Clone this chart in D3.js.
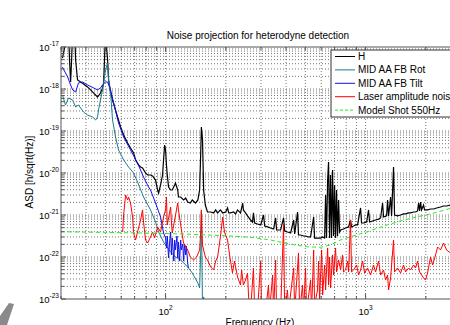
<!DOCTYPE html>
<html>
<head>
<meta charset="utf-8">
<script src="https://cdn.jsdelivr.net/npm/d3@7"></script>
<style>
body { margin:0; background:#fff; }
svg { display:block; font-family: "Liberation Sans", Arial, sans-serif; }
</style>
</head>
<body>
<div id="container"></div>
<script>
// spectra: [frequency in Hz, ASD in h/sqrt(Hz)]
const hData = [[30.5,5.47e-18],[31.3,1e-17],[32,2.5e-17],[32.7,2.5e-17],[33.1,4.9e-18],[33.5,1.47e-18],[33.9,4.9e-18],[34.3,2.5e-17],[35.1,2.5e-17],[35.5,4.9e-18],[36.3,1.64e-18],[37.6,1.47e-18],[38.9,1.32e-18],[40.7,1.12e-18],[42.2,9.5e-19],[43.7,8.0e-19],[45.7,6.45e-19],[47.3,8.0e-19],[48.4,1.06e-18],[49,1.39e-18],[49.5,4.9e-18],[50.1,2.5e-17],[50.7,1e-17],[51.3,4.9e-18],[51.9,1.64e-18],[53.1,8.5e-19],[54.3,5.47e-19],[56.2,3.16e-19],[57.5,2.15e-19],[59.6,1.25e-19],[61.7,8.0e-20],[64.6,5.2e-20],[66.8,3.94e-20],[69.2,3.0e-20],[70.8,2.04e-20],[73.3,1.55e-20],[75,1.39e-20],[76.7,1.32e-20],[79.4,1e-20],[81.3,8.95e-21],[84.1,8.95e-21],[86.1,8.5e-21],[89.1,6.8e-21],[91.2,3.94e-21],[92.3,3.34e-21],[94.4,5.2e-21],[96.6,8.95e-21],[97.7,2.04e-20],[98.9,4.64e-20],[100,3.53e-20],[101,1.55e-20],[102,8.95e-21],[103.5,4.64e-21],[106,3.94e-21],[108,3.94e-21],[111,5.2e-21],[112,5.8e-21],[115,3.94e-21],[116,2.68e-21],[119,2.68e-21],[123,2.28e-21],[126,2.54e-21],[129,2.04e-21],[133,1.93e-21],[136,2.28e-21],[141,1.93e-21],[145,2.28e-21],[148,3.94e-21],[150,3.53e-20],[151,1.25e-19],[153,6.1e-20],[155,3.94e-21],[158,1.73e-21],[162,1.18e-21],[168,1.18e-21],[174,1.12e-21],[178,1.32e-21],[182,1.12e-21],[188,1.32e-21],[193,1.12e-21],[200,1.18e-21],[204,1.47e-21],[207,1.12e-21],[211,1.12e-21],[219,1.18e-21],[224,1.06e-21],[229,1.32e-21],[237,1.12e-21],[243,1.93e-21],[245,1.32e-21],[251,1.12e-21],[257,9.5e-22],[266,7.6e-22],[272,6.8e-22],[275,1.12e-21],[279,6.45e-22],[288,6.1e-22],[299,5.8e-22],[309,1e-21],[313,5.47e-22],[324,5.2e-22],[335,4.9e-22],[347,4.64e-22],[355,8.5e-22],[359,4.4e-22],[376,4.4e-22],[389,8.5e-22],[394,4.16e-22],[407,3.94e-22],[422,3.73e-22],[437,7.6e-22],[442,3.53e-22],[457,1.18e-21],[462,3.34e-22],[473,3.34e-22],[490,3.16e-22],[501,3.16e-22],[519,3.0e-22],[531,3.0e-22],[550,8.95e-22],[556,2.83e-22],[575,2.83e-22],[596,2.83e-22],[610,3.0e-22],[624,2.83e-22],[631,3.0e-21],[638,2.83e-22],[646,6.8e-21],[653,1.83e-20],[661,2.83e-22],[668,8.95e-21],[676,2.83e-22],[684,1.18e-20],[692,3.16e-22],[700,5.2e-21],[708,2.83e-22],[716,3.94e-21],[724,3.16e-22],[733,2.28e-21],[741,3.94e-22],[750,4.4e-22],[776,4.64e-22],[794,4.9e-22],[822,5.2e-22],[841,7.6e-22],[851,5.2e-22],[871,5.47e-22],[891,5.8e-22],[912,5.8e-22],[944,1.47e-21],[955,6.45e-22],[977,6.45e-22],[1012,6.8e-22],[1035,1.32e-21],[1047,6.8e-22],[1084,7.2e-22],[1122,7.6e-22],[1161,8.0e-22],[1189,8.5e-22],[1216,1.93e-21],[1230,8.95e-22],[1274,9.5e-22],[1288,2.28e-21],[1303,9.5e-22],[1334,2.68e-21],[1349,9.5e-22],[1380,1.39e-20],[1396,1e-21],[1445,9.5e-22],[1496,1e-21],[1549,1.06e-21],[1585,1.06e-21],[1641,1.12e-21],[1679,1.12e-21],[1738,1.18e-21],[1778,1.18e-21],[1820,1.25e-21],[1841,1.93e-21],[1862,1.25e-21],[1884,2.04e-21],[1905,1.32e-21],[1950,1.73e-21],[1972,1.32e-21],[2042,1.32e-21],[2113,1.39e-21],[2188,1.39e-21],[2265,1.47e-21],[2371,1.55e-21],[2455,1.64e-21],[2541,1.64e-21],[2661,1.73e-21],[2985,1.93e-21]];

const rotData = [[30.5,7.2e-19],[31.6,4.16e-19],[32.7,6.1e-19],[34.3,5.47e-19],[35.5,3.73e-19],[36.7,4.16e-19],[38.9,2.83e-19],[40.7,2.4e-19],[43.2,2.15e-19],[44.7,1.83e-19],[45.7,2.15e-19],[46.2,3.16e-19],[48.4,9.5e-19],[50.1,2.83e-18],[51.3,4.16e-18],[51.9,1.64e-18],[53.1,8.0e-19],[54.3,1.83e-19],[56.2,7.2e-20],[58.2,3.53e-20],[61.7,2.04e-20],[65.3,1.39e-20],[69.2,1e-20],[72.4,6.1e-21],[77.6,2.68e-21],[84.1,1.32e-21],[89.1,6.8e-22],[92.3,3.94e-22],[97.7,2.28e-22],[106,1.32e-22],[112,1e-22],[119,8.5e-23],[129,5.8e-23],[136,4.16e-23],[145,2.4e-23],[148,1.83e-23],[150,1.47e-22],[151,1.18e-21],[153,6e-24],[155,1.12e-23],[158,5e-24]];

const tiltData = [[30.5,3.34e-18],[31.6,2.4e-18],[32.4,1.93e-18],[33.5,1.25e-18],[34.3,9.5e-19],[35.5,8.5e-19],[36.7,1.39e-18],[38.5,1.47e-18],[40.7,1.25e-18],[43.7,1.06e-18],[45.7,9.5e-19],[47.3,1.06e-18],[48.4,1.25e-18],[50.1,1.47e-18],[51.3,1.47e-18],[53.1,9.5e-19],[55,4.64e-19],[58.2,1.55e-19],[61.7,7.2e-20],[66.8,3.53e-20],[72.4,1.73e-20],[77.6,8.0e-21],[82.2,4.64e-21],[84.1,3.94e-21],[89.1,1.93e-21],[94.4,8.95e-22],[97.7,3.73e-22],[100,2.83e-22],[101,1.64e-22],[102,3.16e-22],[103.5,9.5e-23],[105,2.54e-22],[106,3.94e-22],[107,1.12e-22],[108,2.83e-22],[110,8.0e-23],[111,2.54e-22],[112,1.47e-22],[114,3.16e-22],[115,9.5e-23],[116,2.28e-22],[117.5,8.0e-23],[119,2.54e-22],[120,1.47e-22],[122,2.04e-22],[123,8.0e-23],[124.5,2.04e-22],[126,1.12e-22],[127,1.83e-22],[129,7.2e-23],[130,5.47e-23]];

const laserData = [[61,3.94e-22],[61.7,1e-21],[63.1,3.0e-21],[64.6,2.28e-21],[65.3,2.68e-21],[66.8,1.93e-21],[68.4,8.95e-22],[69.2,3.73e-22],[70.8,2.54e-22],[72.4,3.94e-22],[75,7.6e-22],[76.7,1.32e-21],[77.6,6.8e-22],[79.4,2.54e-22],[81.3,2.15e-22],[84.1,3.0e-22],[86.1,3.94e-22],[88.1,2.83e-22],[91.2,5.2e-22],[94.4,3.94e-22],[97.7,8.95e-22],[100,1.32e-21],[101,2.68e-21],[102,5.8e-22],[103.5,8.5e-22],[106,1.55e-21],[107,6.8e-22],[108,3.73e-22],[111,7.6e-22],[115,1.93e-21],[116,1.32e-21],[119,5.8e-22],[123,2.15e-22],[129,1.47e-22],[133,1e-22],[138,8.5e-23],[143,1e-22],[148,1.47e-22],[150,4.4e-22],[151,1.32e-21],[153,1.93e-22],[158,1e-22],[162,8.5e-23],[168,5.8e-23],[174,4.9e-23],[178,8.0e-23],[182,1e-22],[188,3.0e-22],[193,8.95e-22],[197,3.94e-22],[204,2.54e-22],[209,1.12e-22],[216,4.16e-23],[221,8.0e-23],[229,3.34e-23],[237,2.15e-23],[240,4.9e-23],[245,2.15e-23],[251,2.83e-23],[257,4.16e-23],[260,1.12e-23],[266,5e-24],[275,5.47e-23],[279,5e-24],[288,5e-24],[299,8.0e-23],[302,5e-24],[316,5e-24],[327,2.15e-23],[331,5e-24],[343,3.73e-23],[347,5e-24],[355,8.5e-23],[359,5e-24],[376,5e-24],[389,5.8e-22],[394,5e-24],[407,1.64e-23],[412,5e-24],[437,5.47e-23],[442,5e-24],[462,1.25e-22],[468,5e-24],[484,2.15e-23],[490,5e-24],[501,5.47e-23],[507,5e-24],[531,2.83e-23],[537,5e-24],[550,1.47e-22],[556,7.2e-24],[575,1.64e-23],[582,8.0e-23],[589,9.5e-24],[603,1.47e-22],[610,1.25e-23],[624,6.45e-23],[631,1.64e-23],[646,1.64e-22],[653,2.15e-23],[661,1e-22],[668,1.83e-23],[684,1.12e-22],[692,3.73e-23],[708,1.64e-22],[716,4.4e-23],[733,8.5e-23],[750,4.9e-23],[767,1.12e-22],[776,4.4e-23],[794,4.9e-23],[813,8.0e-23],[822,4.4e-23],[841,7.6e-22],[851,4.4e-23],[871,4.9e-23],[902,6.45e-23],[923,3.73e-23],[944,4.9e-23],[966,8.0e-23],[989,4.16e-23],[1023,5.47e-23],[1059,3.73e-23],[1096,6.45e-23],[1122,4.4e-23],[1161,8.0e-23],[1189,3.73e-23],[1230,4.9e-23],[1259,2.83e-23],[1288,3.73e-23],[1303,1.64e-23],[1334,3.16e-23],[1380,2.54e-22],[1396,4.4e-23],[1445,5.47e-23],[1496,4.16e-23],[1549,6.45e-23],[1585,4.4e-23],[1641,5.47e-23],[1679,4.9e-23],[1738,6.45e-23],[1778,5.47e-23],[1820,8.0e-23],[1862,4.4e-23],[1905,3.73e-23],[1950,3.16e-23],[1995,2.83e-23],[2042,4.16e-23],[2113,1e-22],[2163,6.45e-23],[2239,1.12e-22],[2291,1.73e-22],[2371,1.47e-22],[2455,2.15e-22],[2541,1.47e-22],[2661,1.25e-22],[2818,1.47e-22],[2985,1.64e-22]];

const shotData = [[30,4.0e-22],[50,3.85e-22],[94,3.66e-22],[150,3.4e-22],[200,3.2e-22],[266,2.95e-22],[335,2.55e-22],[422,2.0e-22],[512,1.75e-22],[596,1.7e-22],[668,1.93e-22],[750,2.54e-22],[841,3.04e-22],[1023,4.0e-22],[1235,5.47e-22],[1496,7.2e-22],[1820,9.1e-22],[2180,1.1e-21],[2661,1.44e-21],[3000,1.6e-21]];

const seriesNames = ["H", "MID AA FB Rot", "MID AA FB Tilt", "Laser amplitude noise", "Model Shot 550Hz"];
const seriesColors = ["#000000", "#1f7a8e", "#1010ee", "#ff0000", "#22ee22"];
const seriesWidths = [1.2, 1, 1, 1, 1];
const xTickExps = [2, 3];
const yTickExps = [-23, -22, -21, -20, -19, -18, -17];

const widthSVG = 450, heightSVG = 325;
const plot = {left: 61, top: 47, right: 461, bottom: 299};

const x = d3.scaleLog().domain([30, 3000]).range([plot.left, plot.right]);
const y = d3.scaleLog().domain([1e-23, 1e-17]).range([plot.bottom, plot.top]);

const svg = d3.select("#container").append("svg")
  .attr("width", widthSVG).attr("height", heightSVG);

svg.append("rect").attr("width", widthSVG).attr("height", heightSVG).attr("fill", "#fff");

svg.append("defs").append("clipPath").attr("id", "clip")
  .append("rect")
  .attr("x", plot.left).attr("y", plot.top)
  .attr("width", plot.right - plot.left).attr("height", plot.bottom - plot.top);

// dotted grid, major and minor
const grid = svg.append("g").attr("stroke", "#555").attr("stroke-width", 0.8).attr("stroke-dasharray", "1,2");
grid.selectAll(".gx").data(x.ticks().filter(v => x(v) > plot.left + 1)).enter().append("line")
  .attr("x1", d => x(d)).attr("x2", d => x(d))
  .attr("y1", plot.top).attr("y2", plot.bottom);
grid.selectAll(".gy").data(y.ticks().filter(v => y(v) < plot.bottom - 1 && y(v) > plot.top + 1)).enter().append("line")
  .attr("x1", plot.left).attr("x2", plot.right)
  .attr("y1", d => y(d)).attr("y2", d => y(d));

// curves
const line = d3.line().x(d => x(d[0])).y(d => y(d[1]));
const curves = svg.append("g").attr("clip-path", "url(#clip)").attr("fill", "none");
[hData, rotData, tiltData, laserData, shotData].forEach((data, i) => {
  curves.append("path")
    .datum(data)
    .attr("d", line)
    .attr("stroke", seriesColors[i])
    .attr("stroke-width", seriesWidths[i])
    .attr("stroke-dasharray", i === 4 ? "4,3" : null);
});

// axes box and ticks
const axes = svg.append("g").attr("stroke", "#555").attr("stroke-width", 1);
axes.append("line").attr("x1", plot.left).attr("x2", plot.left).attr("y1", plot.top).attr("y2", plot.bottom);
axes.append("line").attr("x1", plot.left).attr("x2", plot.right).attr("y1", plot.bottom).attr("y2", plot.bottom);
axes.append("line").attr("x1", plot.left).attr("x2", plot.right).attr("y1", plot.top).attr("y2", plot.top);

const isMajor = v => Math.abs(Math.log10(v) - Math.round(Math.log10(v))) < 1e-6;
x.ticks().forEach(v => {
  const len = isMajor(v) ? 5 : 3;
  axes.append("line").attr("x1", x(v)).attr("x2", x(v)).attr("y1", plot.bottom).attr("y2", plot.bottom - len);
  axes.append("line").attr("x1", x(v)).attr("x2", x(v)).attr("y1", plot.top).attr("y2", plot.top + len);
});
y.ticks().forEach(v => {
  const len = isMajor(v) ? 5 : 3;
  axes.append("line").attr("x1", plot.left).attr("x2", plot.left + len).attr("y1", y(v)).attr("y2", y(v));
});

// tick labels as 10^n
const yLabels = svg.append("g").attr("font-size", 9.5).attr("fill", "#000").attr("text-anchor", "end");
yTickExps.forEach(e => {
  const t = yLabels.append("text").attr("x", plot.left - 2).attr("y", y(Math.pow(10, e)) + 3.5);
  t.append("tspan").text("10");
  t.append("tspan").attr("dy", -4.5).attr("font-size", 6.5).text(e);
});
const xLabels = svg.append("g").attr("font-size", 9.5).attr("fill", "#000").attr("text-anchor", "middle");
xTickExps.forEach(e => {
  const t = xLabels.append("text").attr("x", x(Math.pow(10, e))).attr("y", plot.bottom + 15.5);
  t.append("tspan").text("10");
  t.append("tspan").attr("dy", -4.5).attr("font-size", 6.5).text(e);
});

// titles
svg.append("text").attr("x", 258).attr("y", 39).attr("text-anchor", "middle")
  .attr("font-size", 10).text("Noise projection for heterodyne detection");
svg.append("text").attr("x", 260).attr("y", 325.5).attr("text-anchor", "middle")
  .attr("font-size", 10).text("Frequency (Hz)");
svg.append("text").attr("transform", "translate(33,172) rotate(-90)").attr("text-anchor", "middle")
  .attr("font-size", 10).text("ASD [h/sqrt(Hz)]");

// legend
const legend = svg.append("g").attr("transform", "translate(331,50)");
legend.append("rect").attr("width", 140).attr("height", 67)
  .attr("fill", "#fff").attr("stroke", "#333").attr("stroke-width", 1);
seriesNames.forEach((name, i) => {
  const ly = 6.5 + i * 13.4;
  legend.append("line").attr("x1", 4).attr("x2", 24).attr("y1", ly).attr("y2", ly)
    .attr("stroke", seriesColors[i]).attr("stroke-width", 1)
    .attr("stroke-dasharray", i === 4 ? "3,2" : null);
  legend.append("text").attr("x", 27).attr("y", ly + 3.5).attr("font-size", 10).text(name);
});

// grey slide decoration peeking in at the lower left corner
svg.append("path")
  .attr("d", "M0,325 L0,316 L9,303 L14,304 L7,325 Z")
  .attr("fill", "#8a8a8a");
</script>
</body>
</html>
